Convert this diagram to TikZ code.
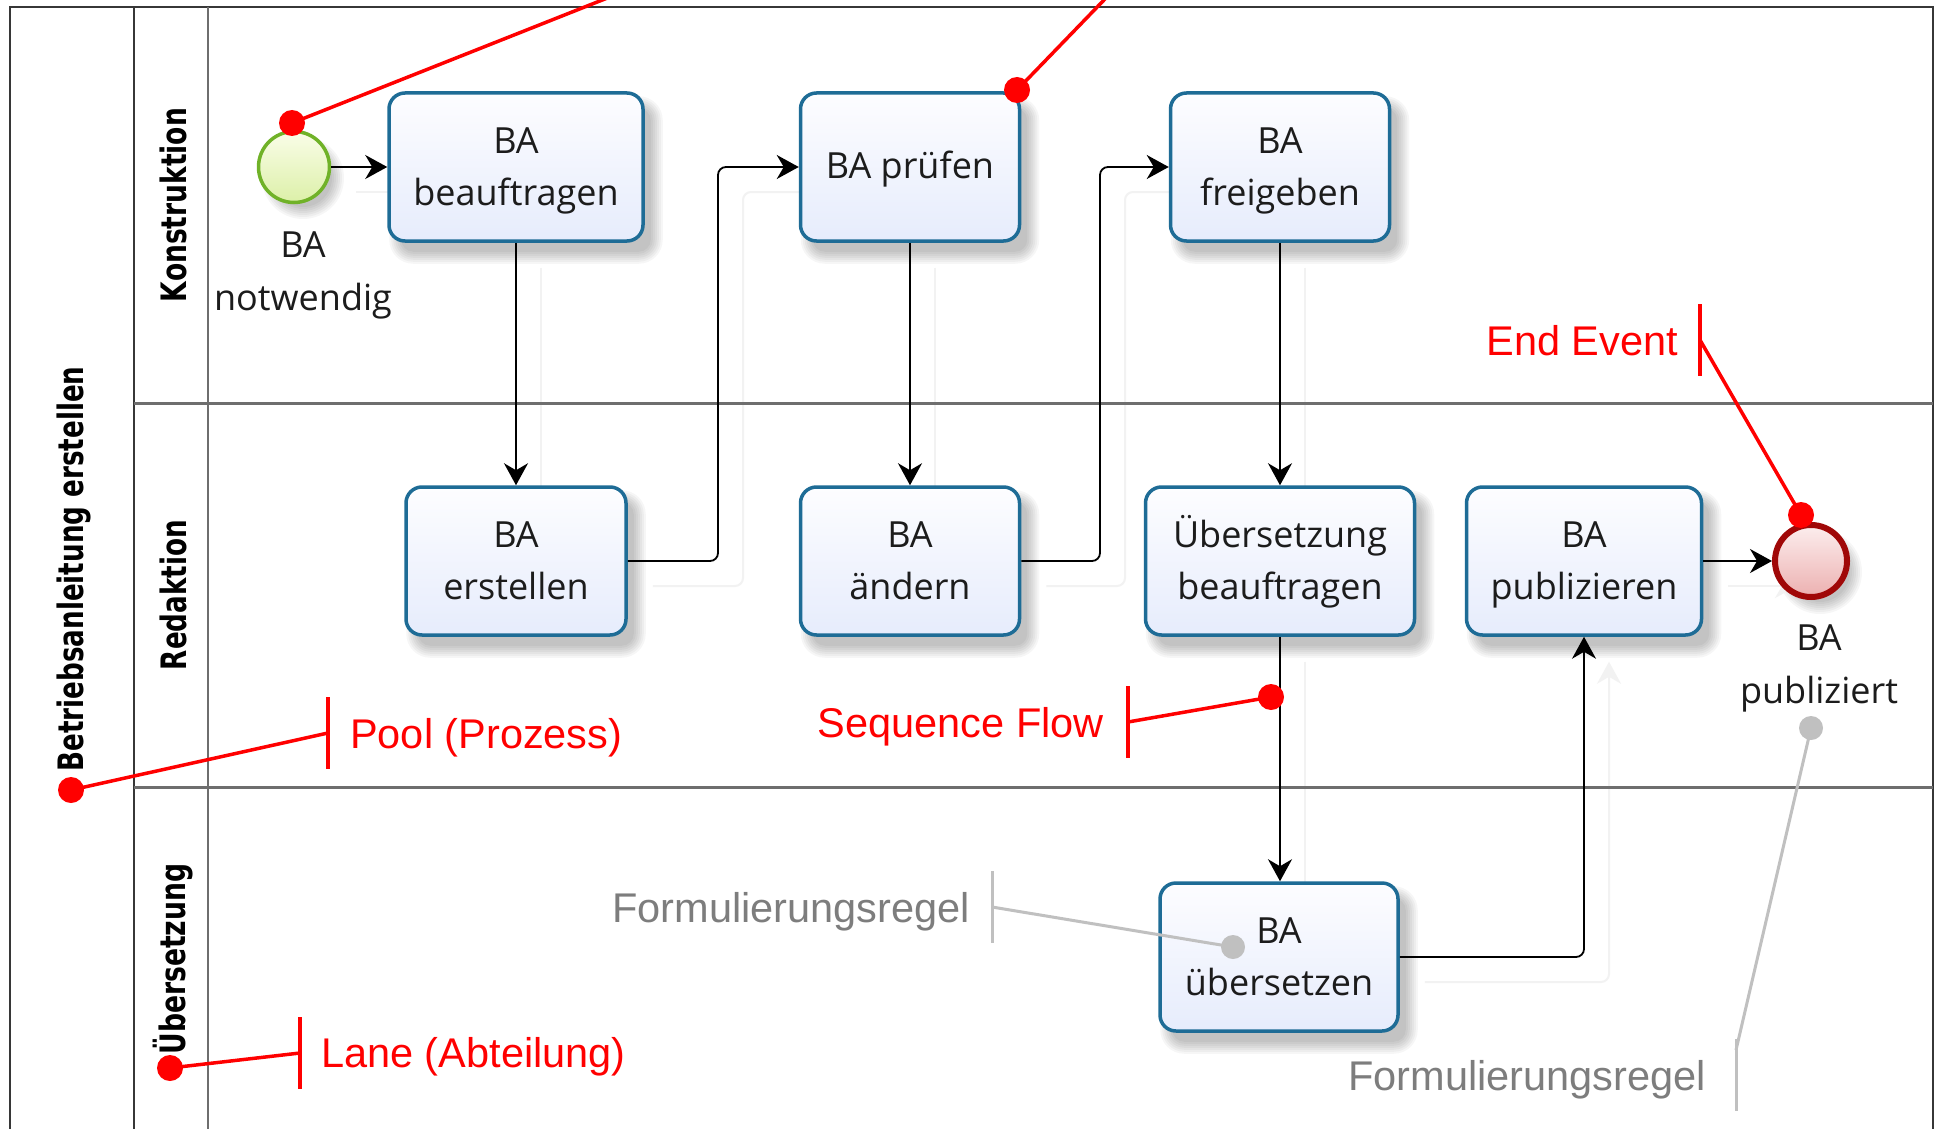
\documentclass[tikz,border=0pt]{standalone}
\usepackage{fontspec}
\usepackage{graphicx}
\setmainfont{Open Sans}
\newfontfamily\annofont{Liberation Sans}
\newfontfamily\lanefont{DejaVu Sans}
\usetikzlibrary{arrows.meta,calc}

\definecolor{taskline}{RGB}{30,108,150}
\definecolor{tasktop}{RGB}{253,253,255}
\definecolor{taskbot}{RGB}{230,236,252}
\definecolor{startline}{RGB}{112,178,40}
\definecolor{starttop}{RGB}{250,253,232}
\definecolor{startbot}{RGB}{220,240,168}
\definecolor{endline}{RGB}{160,8,8}
\definecolor{endtop}{RGB}{252,238,238}
\definecolor{endbot}{RGB}{236,176,176}
\definecolor{annored}{RGB}{255,0,0}
\definecolor{annogreyline}{RGB}{192,192,192}
\definecolor{annogreytext}{RGB}{125,125,125}
\definecolor{poolline}{RGB}{55,55,55}
\definecolor{laneline}{RGB}{110,110,110}
\definecolor{tasktext}{RGB}{28,28,28}

\pgfdeclarelayer{paper}
\pgfdeclarelayer{bg}
\pgfsetlayers{paper,bg,main}

\tikzset{
  task/.style={draw=taskline, line width=3.5pt, rounded corners=16pt,
      top color=tasktop, bottom color=taskbot,
      minimum height=148pt, inner sep=0pt, align=center, text=tasktext,
      text depth=0pt, font=\fontsize{36pt}{52pt}\selectfont},
  startev/.style={circle, draw=startline, line width=3.5pt,
      top color=starttop, bottom color=startbot,
      minimum size=71pt, inner sep=0pt},
  endev/.style={circle, draw=endline, line width=6pt,
      top color=endtop, bottom color=endbot,
      minimum size=72pt, inner sep=0pt},
  evlabel/.style={align=center, inner sep=0pt, text=tasktext,
      font=\fontsize{36pt}{53pt}\selectfont},
  lanelbl/.style={rotate=90, inner sep=0pt,
      font=\lanefont\bfseries\fontsize{35pt}{40pt}\selectfont},
  flow/.style={draw=black, line width=1.8pt,
      -{Stealth[length=22pt, width=24pt, inset=7pt]}},
  ghostflow/.style={draw=black!5, line width=2pt,
      -{Stealth[length=22pt, width=24pt, inset=7pt]}},
  shadowlayer/.style={black, opacity=0.035},
  redline/.style={draw=annored, line width=3.5pt},
  reddot/.style={circle, fill=annored, minimum size=26pt, inner sep=0pt},
  redtext/.style={text=annored, inner sep=0pt,
      font=\annofont\fontsize{41.5pt}{48pt}\selectfont},
  greyline/.style={draw=annogreyline, line width=3pt},
  greydot/.style={circle, fill=annogreyline, minimum size=24pt, inner sep=0pt},
  greytext/.style={text=annogreytext, inner sep=0pt,
      font=\annofont\fontsize{41.5pt}{48pt}\selectfont},
}

% soft drop shadow under a task: stacked translucent rounded boxes
\newcommand\taskshadow[1]{%
  \foreach \e in {-4,-2,...,8} {
    \pgfmathsetmacro\rc{16+\e}
    \pgfmathsetmacro\lx{10-\e}\pgfmathsetmacro\rx{10+\e}
    \pgfmathsetmacro\by{-13-\e}\pgfmathsetmacro\ty{-13+\e}
    \fill[shadowlayer, rounded corners=\rc pt]
      ([xshift=\lx pt, yshift=\by pt]#1.south west) rectangle
      ([xshift=\rx pt, yshift=\ty pt]#1.north east);
  }}
% the same for a round event
\newcommand\eventshadow[2]{%
  \foreach \e in {-4,-2,...,8} {
    \pgfmathsetmacro\rr{#2+\e}
    \fill[shadowlayer] ([xshift=9pt, yshift=-11pt]#1.center) circle[radius=\rr pt];
  }}

% all sequence flows, drawn once as faint shadows and once for real
\newcommand\drawflows[1]{%
  \draw[#1] (start.east) -- (beauftragen.west);
  \draw[#1] (beauftragen.south) -- (beauftragen.south |- erstellen.north);
  \draw[#1, rounded corners=8pt] (erstellen.east) -- (erstellen.east -| j1)
        -- (j1 |- pruefen.west) -- (pruefen.west);
  \draw[#1] (pruefen.south) -- (pruefen.south |- aendern.north);
  \draw[#1, rounded corners=8pt] (aendern.east) -- (aendern.east -| j2)
        -- (j2 |- freigeben.west) -- (freigeben.west);
  \draw[#1] (freigeben.south) -- (freigeben.south |- uebauftrag.north);
  \draw[#1] (uebauftrag.south) -- (uebauftrag.south |- uebersetzen.north);
  \draw[#1, rounded corners=8pt] (uebersetzen.east)
        -- (uebersetzen.east -| publizieren.south) -- (publizieren.south);
  \draw[#1] (publizieren.east) -- (endevent.west);
}

\begin{document}
\begin{tikzpicture}[x=1pt, y=-1pt]
\useasboundingbox (0,0) rectangle (1935,1129);

\begin{pgfonlayer}{paper}
  \fill[white] (0,0) rectangle (1935,1129);
\end{pgfonlayer}

% pool and lanes
\begin{scope}
  \clip (0,0) rectangle (1935,1129);
  \draw[poolline, line width=2.5pt] (10,7) rectangle (1933,1145);
  \draw[poolline, line width=2.5pt] (134,7) -- (134,1145);
  \draw[laneline, line width=2pt] (208,7) -- (208,1145);
  \draw[laneline, line width=3pt] (134,403) -- (1933,403);
  \draw[laneline, line width=3pt] (134,787) -- (1933,787);
\end{scope}

\node[lanelbl] (poollbl) at (74,569) {\resizebox{405pt}{\height}{Betriebsanleitung erstellen}};
\node[lanelbl] (lane1) at (173,205) {\resizebox{194pt}{\height}{Konstruktion}};
\node[lanelbl] (lane2) at (173,595) {\resizebox{150pt}{\height}{Redaktion}};
\node[lanelbl] (lane3) at (173,959) {\resizebox{191pt}{\height}{Übersetzung}};

% events and tasks
\node[startev] (start) at (294,167) {};
\node[evlabel] (startlbl) at (303,275) {BA\\notwendig};

\node[task, minimum width=254pt] (beauftragen) at (516,167) {BA\\beauftragen};
\node[task, minimum width=219pt, text depth=5pt] (pruefen) at (910,167) {BA prüfen};
\node[task, minimum width=219pt] (freigeben) at (1280,167) {BA\\freigeben};
\node[task, minimum width=220pt] (erstellen) at (516,561) {BA\\erstellen};
\node[task, minimum width=219pt] (aendern) at (910,561) {BA\\ändern};
\node[task, minimum width=269pt, text depth=8pt] (uebauftrag) at (1280,561) {Übersetzung\\beauftragen};
\node[task, minimum width=235pt] (publizieren) at (1584,561) {BA\\publizieren};
\node[task, minimum width=238pt] (uebersetzen) at (1279,957) {BA\\übersetzen};

\node[endev] (endevent) at (1811,561) {};
\node[evlabel] (endlbl) at (1819,668) {BA\\publiziert};

% elbow columns of the sequence flows
\coordinate (j1) at (718,0);
\coordinate (j2) at (1100,0);

\begin{pgfonlayer}{bg}
  \foreach \n in {beauftragen,pruefen,freigeben,erstellen,aendern,
                  uebauftrag,publizieren,uebersetzen}
    {\taskshadow{\n}}
  \eventshadow{start}{33}
  \eventshadow{endevent}{34}
  \begin{scope}[transform canvas={xshift=25pt, yshift=-25pt}]
    \drawflows{ghostflow}
  \end{scope}
\end{pgfonlayer}
\drawflows{flow}

% red annotations
\begin{scope}
\clip (0,0) rectangle (1935,1129);
\node[reddot] (dStart) at (292,123) {};
\node[reddot] (dTask) at (1017,90) {};
\node[reddot] (dEnd) at (1801,515) {};
\node[reddot] (dFlow) at (1271,697) {};
\node[reddot] (dPool) at (71,790) {};
\node[reddot] (dLane) at (170,1068) {};

\coordinate (farStart) at (678,-30);
\coordinate (farTask) at (1133,-30);
\draw[redline] (dStart.center) -- (farStart);
\draw[redline] (dTask.center) -- (farTask);

\coordinate (tickEnd) at (1700,340);
\coordinate (tickFlow) at (1128,722);
\coordinate (tickPool) at (328,733);
\coordinate (tickLane) at (300,1053);

\foreach \t in {tickEnd,tickFlow,tickPool,tickLane}
  \draw[redline] ($(\t)+(0,-36)$) -- ($(\t)+(0,36)$);

\draw[redline] (tickEnd) -- (dEnd.center);
\draw[redline] (tickFlow) -- (dFlow.center);
\draw[redline] (tickPool) -- (dPool.center);
\draw[redline] (tickLane) -- (dLane.center);
\end{scope}

\node[redtext, anchor=base east] (txtEnd) at (1678,355) {End Event};
\node[redtext, anchor=base east] (txtFlow) at (1104,737) {Sequence Flow};
\node[redtext, anchor=base west] (txtPool) at (350,748) {Pool (Prozess)};
\node[redtext, anchor=base west] (txtLane) at (321,1067) {Lane (Abteilung)};

% grey annotations
\node[greydot] (gTask) at (1233,947) {};
\node[greydot] (gEnd) at (1811,728) {};
\coordinate (tickRuleA) at (992,907);
\coordinate (tickRuleB) at (1736,1075);
\coordinate (joinRuleB) at (1736,1050);
\draw[greyline] ($(tickRuleA)+(0,-36)$) -- ($(tickRuleA)+(0,36)$);
\draw[greyline] ($(tickRuleB)+(0,-36)$) -- ($(tickRuleB)+(0,36)$);
\draw[greyline] (tickRuleA) -- (gTask.center);
\draw[greyline] (joinRuleB) -- (gEnd.center);
\node[greytext, anchor=base east] (txtRuleA) at (970,922) {Formulierungsregel};
\node[greytext, anchor=base west] (txtRuleB) at (1348,1090) {Formulierungsregel};
\end{tikzpicture}
\end{document}
